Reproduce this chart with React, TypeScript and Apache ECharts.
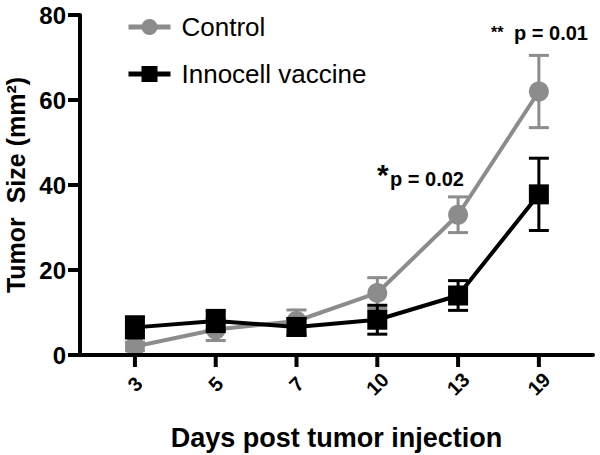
import React, { useEffect, useRef } from "react";
import * as echarts from "echarts";

const days = ["3", "5", "7", "10", "13", "19"];
const controlMean = [2, 6, 8, 14.6, 33, 62];
const controlErr = [1, 2.6, 2.6, 3.6, 4.2, 8.5];
const vaccineMean = [6.5, 8, 6.6, 8.3, 14, 37.8];
const vaccineErr = [2.5, 2.5, 2, 3.4, 3.5, 8.5];

const FONT = "Liberation Sans, Arial, Helvetica, sans-serif";
const GRAY = "#8c8c8c";
const BLACK = "#000000";

// x positions are 1-based category indices
function errData(mean: number[], err: number[]) {
  return mean.map((m, i) => [i + 1, m - err[i], m + err[i]]);
}

function errSeries(name: string, mean: number[], err: number[], color: string, z: number) {
  return {
    type: "custom",
    name,
    z,
    silent: true,
    data: errData(mean, err),
    renderItem: (params: any, api: any) => {
      const x = api.value(0);
      const lo = api.coord([x, api.value(1)]);
      const hi = api.coord([x, api.value(2)]);
      const hw = 10;
      const style = { stroke: color, lineWidth: 3 };
      return {
        type: "group",
        children: [
          { type: "line", shape: { x1: lo[0], y1: lo[1], x2: hi[0], y2: hi[1] }, style },
          { type: "line", shape: { x1: lo[0] - hw, y1: lo[1], x2: lo[0] + hw, y2: lo[1] }, style },
          { type: "line", shape: { x1: hi[0] - hw, y1: hi[1], x2: hi[0] + hw, y2: hi[1] }, style },
        ],
      };
    },
  };
}

// tick marks and rotated tick labels for the day categories, drawn through the axis scale
function dayTickSeries() {
  return {
    type: "custom",
    name: "dayTicks",
    z: 10,
    silent: true,
    clip: false,
    data: days.map((d, i) => [i + 1, 0]),
    renderItem: (params: any, api: any) => {
      const i = api.value(0);
      const p = api.coord([i, 0]);
      return {
        type: "group",
        children: [
          {
            type: "line",
            shape: { x1: p[0], y1: p[1], x2: p[0], y2: p[1] + 12 },
            style: { stroke: BLACK, lineWidth: 4 },
          },
          {
            type: "text",
            x: p[0],
            y: p[1] + 29,
            rotation: Math.PI / 4,
            style: {
              text: days[Math.round(i) - 1],
              fontSize: 20,
              fontWeight: "bold",
              fontFamily: FONT,
              fill: BLACK,
              align: "center",
              verticalAlign: "middle",
            },
          },
        ],
      };
    },
  };
}

export default function App() {
  const ref = useRef<HTMLDivElement>(null);
  useEffect(() => {
    if (!ref.current) return;
    const chart = echarts.init(ref.current, null, { renderer: "svg" });
    chart.setOption({
      animation: false,
      textStyle: { fontFamily: FONT },
      grid: { left: 80, right: 7, top: 15, bottom: 100, containLabel: false, outerBoundsMode: "none" },
      legend: {
        data: ["Control", "Innocell vaccine"],
        orient: "vertical",
        left: 121,
        top: 9,
        itemWidth: 42,
        itemHeight: 20,
        itemGap: 21,
        lineStyle: { width: 5 },
        textStyle: { fontSize: 26, color: BLACK, fontFamily: FONT, padding: [0, 0, 0, 6] },
      },
      xAxis: {
        type: "value",
        min: 0.32,
        max: 6.67,
        z: 10,
        name: "Days post tumor injection",
        nameLocation: "middle",
        nameGap: 69,
        nameTextStyle: { fontSize: 27, fontWeight: "bold", color: BLACK, fontFamily: FONT },
        splitLine: { show: false },
        axisLine: { show: true, lineStyle: { color: BLACK, width: 4 } },
        axisTick: { show: false },
        axisLabel: { show: false },
      },
      yAxis: {
        type: "value",
        min: 0,
        max: 80,
        interval: 20,
        z: 10,
        name: "Tumor  Size (mm²)",
        nameLocation: "middle",
        nameGap: 48,
        nameTextStyle: { fontSize: 25, fontWeight: "bold", color: BLACK, fontFamily: FONT },
        splitLine: { show: false },
        axisLine: { show: true, lineStyle: { color: BLACK, width: 4 } },
        axisTick: { show: true, length: 12, lineStyle: { color: BLACK, width: 4 } },
        axisLabel: { fontSize: 24, fontWeight: "bold", color: BLACK, margin: 14, fontFamily: FONT },
      },
      series: [
        dayTickSeries(),
        errSeries("ctrlErr", controlMean, controlErr, GRAY, 1),
        {
          type: "line",
          name: "Control",
          z: 2,
          data: controlMean.map((v, i) => [i + 1, v]),
          symbol: "circle",
          symbolSize: 20,
          itemStyle: { color: GRAY },
          lineStyle: { color: GRAY, width: 4 },
        },
        errSeries("vacErr", vaccineMean, vaccineErr, BLACK, 3),
        {
          type: "line",
          name: "Innocell vaccine",
          z: 4,
          data: vaccineMean.map((v, i) => [i + 1, v]),
          symbol: "rect",
          symbolSize: 20,
          itemStyle: { color: BLACK },
          lineStyle: { color: BLACK, width: 4 },
        },
      ],
      graphic: [
        {
          type: "text",
          left: 491,
          top: 24,
          style: { text: "**", fontSize: 16, fontWeight: "bold", fill: BLACK, fontFamily: FONT },
        },
        {
          type: "text",
          left: 514,
          top: 23,
          style: { text: "p = 0.01", fontSize: 20, fontWeight: "bold", fill: BLACK, fontFamily: FONT },
        },
        {
          type: "text",
          left: 377,
          top: 159,
          style: { text: "*", fontSize: 30, fontWeight: "bold", fill: BLACK, fontFamily: FONT },
        },
        {
          type: "text",
          left: 390,
          top: 169,
          style: { text: "p = 0.02", fontSize: 20, fontWeight: "bold", fill: BLACK, fontFamily: FONT },
        },
      ],
    });
    return () => chart.dispose();
  }, []);
  return (
    <div
      ref={ref}
      style={{ position: "fixed", left: 0, top: 0, width: 600, height: 455, background: "#fff" }}
    />
  );
}
